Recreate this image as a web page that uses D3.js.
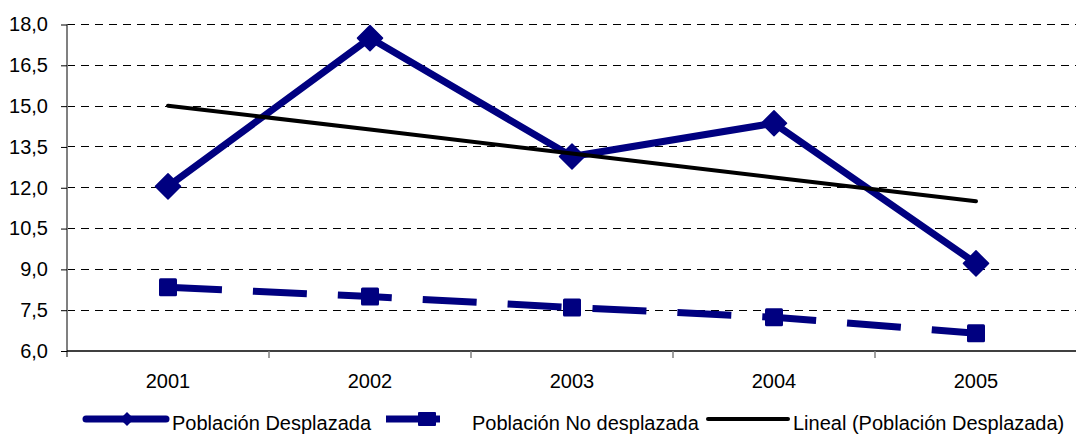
<!DOCTYPE html>
<html><head><meta charset="utf-8">
<script src="https://cdn.jsdelivr.net/npm/d3@7/dist/d3.min.js"></script>
<style>body{margin:0;background:#fff}svg{display:block}text{font-family:"Liberation Sans",Arial,sans-serif;fill:#000}</style>
</head><body>
<svg id="c" width="1076" height="434"></svg>
<script>
const years = ["2001","2002","2003","2004","2005"];
const desplazada = [12.05, 17.5, 13.15, 14.37, 9.22];
const noDesplazada = [8.34, 8.0, 7.6, 7.24, 6.65];
const yTicks = [6.0, 7.5, 9.0, 10.5, 12.0, 13.5, 15.0, 16.5, 18.0];
const legendLabels = ["Población Desplazada", "Población No desplazada", "Lineal (Población Desplazada)"];

const svg = d3.select("#c");
const L = 67, R = 1077, T = 24.5, B = 351;
const x = d3.scaleBand().domain(years).range([L, R]);
const y = d3.scaleLinear().domain([6, 18]).range([B, T]);
const cx = d => x(d) + x.bandwidth() / 2;
const fmt = v => v.toFixed(1).replace(".", ",");
const navy = "#000080";
const FS = "20px";

// gridlines
svg.append("g").selectAll("line").data(yTicks.filter(t => t > 6)).join("line")
  .attr("x1", L).attr("x2", R).attr("y1", d => y(d)).attr("y2", d => y(d))
  .attr("stroke", "#000").attr("stroke-width", 1).attr("stroke-dasharray", "8,6").attr("shape-rendering", "crispEdges");

// y axis
const yAxis = svg.append("g").attr("transform", `translate(${L},0)`)
  .call(d3.axisLeft(y).tickValues(yTicks).tickFormat(fmt).tickSize(6).tickPadding(13));
yAxis.select(".domain").attr("stroke", "#808080").attr("stroke-width", 2).attr("d", `M0,${T}V${B + 6}`);
yAxis.selectAll(".tick line").attr("stroke", "#000");
yAxis.selectAll("text").style("font-size", FS);

// x axis
const xAxis = svg.append("g").attr("transform", `translate(0,${B})`)
  .call(d3.axisBottom(x).tickSize(0).tickPadding(23));
xAxis.select(".domain").attr("stroke", "#000").attr("stroke-width", 1.5).attr("d", `M${L},0H${R}`);
xAxis.selectAll("text").style("font-size", FS);
svg.append("g").selectAll("line").data(years.slice(1)).join("line")
  .attr("x1", d => x(d)).attr("x2", d => x(d)).attr("y1", B).attr("y2", B + 7)
  .attr("stroke", "#808080").attr("stroke-width", 1.5);

// trend line (least squares on desplazada)
const xs = years.map((d, i) => i + 1);
const mx = d3.mean(xs), my = d3.mean(desplazada);
const slope = d3.sum(xs.map((v, i) => (v - mx) * (desplazada[i] - my))) / d3.sum(xs.map(v => (v - mx) ** 2));
const trend = xs.map(v => my + slope * (v - mx));

const line = d3.line().x((d, i) => cx(years[i])).y(d => y(d));

// no desplazada dashed
svg.append("path").attr("d", line(noDesplazada)).attr("fill", "none")
  .attr("stroke", navy).attr("stroke-width", 7).attr("stroke-dasharray", "54,31");
svg.append("g").selectAll("rect").data(noDesplazada).join("rect")
  .attr("x", (d, i) => cx(years[i]) - 9).attr("y", d => y(d) - 9)
  .attr("width", 18).attr("height", 18).attr("rx", 1.5).attr("fill", navy);

// desplazada
svg.append("path").attr("d", line(desplazada)).attr("fill", "none")
  .attr("stroke", navy).attr("stroke-width", 7).attr("stroke-linejoin", "round");
const dia = "M0,-12.5L12.5,0L0,12.5L-12.5,0Z";
svg.append("g").selectAll("path").data(desplazada).join("path")
  .attr("transform", (d, i) => `translate(${cx(years[i])},${y(d)})`)
  .attr("d", dia).attr("fill", navy).attr("stroke", navy).attr("stroke-width", 1.5).attr("stroke-linejoin", "round");

// trend
svg.append("path").attr("d", line(trend)).attr("fill", "none")
  .attr("stroke", "#000").attr("stroke-width", 4).attr("stroke-linecap", "round");

// legend
const ly = 419, ty = 430;
const lg = svg.append("g");
lg.append("line").attr("x1", 86).attr("x2", 166).attr("y1", ly).attr("y2", ly)
  .attr("stroke", navy).attr("stroke-width", 7).attr("stroke-linecap", "round");
lg.append("path").attr("transform", `translate(127,${ly})`).attr("d", "M0,-7L7,0L0,7L-7,0Z").attr("fill", navy);
lg.append("text").attr("x", 172).attr("y", ty).style("font-size", FS).text(legendLabels[0]);
lg.append("line").attr("x1", 386).attr("x2", 440).attr("y1", ly).attr("y2", ly)
  .attr("stroke", navy).attr("stroke-width", 7);
lg.append("rect").attr("x", 418).attr("y", ly - 7).attr("width", 18).attr("height", 14).attr("rx", 1).attr("fill", navy);
lg.append("text").attr("x", 472).attr("y", ty).style("font-size", FS).text(legendLabels[1]);
lg.append("line").attr("x1", 708).attr("x2", 788).attr("y1", ly).attr("y2", ly)
  .attr("stroke", "#000").attr("stroke-width", 4).attr("stroke-linecap", "round");
lg.append("text").attr("x", 793).attr("y", ty).style("font-size", FS).text(legendLabels[2]);
</script>
</body></html>
